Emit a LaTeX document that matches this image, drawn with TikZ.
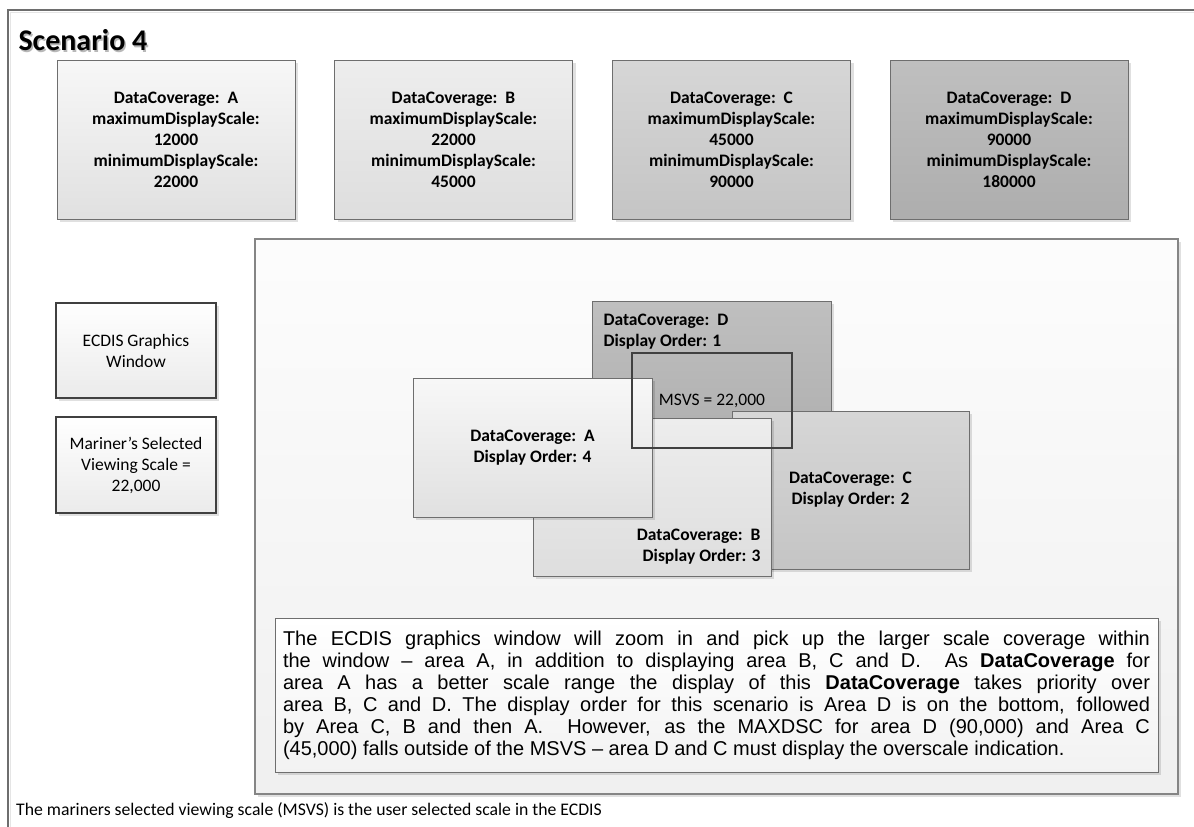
\documentclass[tikz,border=0pt]{standalone}
\usepackage{fontspec}
\setmainfont{Carlito}
\newfontfamily\arialfont{Liberation Sans}
\usetikzlibrary{shadows}

\definecolor{edgegray}{HTML}{6E6E6E}
\definecolor{darkedge}{HTML}{404040}
\definecolor{winedge}{HTML}{858585}

\tikzset{
  panel/.style={rectangle, draw=edgegray, line width=1pt, inner sep=0pt,
    drop shadow={shadow xshift=3pt, shadow yshift=-3pt, fill=black, opacity=0.12}},
  boldtext/.style={font=\bfseries\fontsize{17.5}{21}\selectfont, align=center},
  plaintext/.style={font=\fontsize{17.5}{21}\selectfont, align=center},
  topbox/.style={panel, boldtext, minimum width=238pt, minimum height=159pt},
  areabox/.style={panel, boldtext, minimum width=239pt, minimum height=159pt},
  thickbox/.style={rectangle, draw=darkedge, line width=2.6pt, inner sep=0pt,
    plaintext, minimum width=160pt, minimum height=95pt,
    top color=white, bottom color=black!8,
    drop shadow={shadow xshift=3pt, shadow yshift=-3pt, fill=black, opacity=0.12}},
  shadeA/.style={top color=black!3, bottom color=black!12},
  shadeB/.style={top color=black!7, bottom color=black!13},
  shadeC/.style={top color=black!16, bottom color=black!23},
  shadeD/.style={top color=black!25, bottom color=black!32},
}

\begin{document}
\begin{tikzpicture}[x=1pt,y=-1pt]
\useasboundingbox (0,0) rectangle (1194,827);
\fill[white] (0,0) rectangle (1194,827);

% outer frame (open on the right and at the bottom)
\draw[black!10, line width=1.6pt] (1194,12.5) -- (10.5,12.5) -- (10.5,827);
\draw[edgegray, line width=1.2pt] (1194,10) -- (8,10) -- (8,827);

% title with its soft shadow
\node[anchor=west, text=black!28, font=\bfseries\fontsize{30}{36}\selectfont] at (16.5,42) {Scenario 4};
\node (title) [anchor=west, font=\bfseries\fontsize{30}{36}\selectfont] at (15,40.5) {Scenario 4};

% coverage summaries
\node (covA) [topbox, shadeA] at (176,139.5)
  {DataCoverage:~~A\\maximumDisplayScale:\\12000\\minimumDisplayScale:\\22000};
\node (covB) [topbox, shadeB] at (453.5,139.5)
  {DataCoverage:~~B\\maximumDisplayScale:\\22000\\minimumDisplayScale:\\45000};
\node (covC) [topbox, shadeC] at (731.5,139.5)
  {DataCoverage:~~C\\maximumDisplayScale:\\45000\\minimumDisplayScale:\\90000};
\node (covD) [topbox, shadeD] at (1009,139.5)
  {DataCoverage:~~D\\maximumDisplayScale:\\90000\\minimumDisplayScale:\\180000};

% legend boxes
\node (ecdis) [thickbox] at (136,350.5) {ECDIS Graphics\\Window};
\node (mariner) [thickbox, minimum height=96pt] at (136,465)
  {Mariner’s Selected\\Viewing Scale =\\22,000};

% graphics window
\node (window) [panel, draw=winedge, line width=1.6pt, minimum width=923pt,
  minimum height=555pt, top color=black!1, bottom color=black!6] at (716.5,516.5) {};

% coverage areas, bottom to top
\node (areaD) [areabox, shadeD] at (711.5,380.5) {};
\node (areaDtext) [boldtext, align=left, anchor=west] at (600,331.5)
  {DataCoverage:~~D\\Display Order: 1};
\node (areaC) [areabox, shadeC, minimum width=237pt, minimum height=158pt] at (850.5,490)
  {DataCoverage:~~C\\Display Order: 2};
\node (areaB) [areabox, shadeB, minimum width=238pt, minimum height=158pt] at (652,497) {};
\node (areaBtext) [boldtext, align=right, anchor=east] at (764,546.5)
  {DataCoverage:~~B\\Display Order: 3};
\node (areaA) [areabox, shadeA, minimum height=139pt] at (532.5,447.5)
  {DataCoverage:~~A\\Display Order: 4};

% selected viewing extent
\node (msvs) [rectangle, draw=darkedge, line width=2.6pt, minimum width=160pt,
  minimum height=95pt, plaintext] at (712,400.5) {MSVS = 22,000};

% explanation
\node (note) [panel, minimum width=883pt, minimum height=154pt, inner sep=8pt,
  top color=white, bottom color=black!5, text width=867pt, align=justify,
  font=\arialfont\fontsize{20}{22}\selectfont] at (716.5,695)
  {\parfillskip=0pt\tolerance=10000\hyphenpenalty=10000
   The ECDIS graphics window will zoom in and pick up the larger scale coverage within\linebreak
   the window – area A, in addition to displaying area B, C and D.\ \ As \textbf{DataCoverage} for\linebreak
   area A has a better scale range the display of this \textbf{DataCoverage} takes priority over\linebreak
   area B, C and D. The display order for this scenario is Area D is on the bottom, followed\linebreak
   by Area C, B and then A.\ \ However, as the MAXDSC for area D (90,000) and Area C\linebreak
   (45,000) falls outside of the MSVS – area D and C must display the overscale indication.};

\node (footnote) [anchor=west, inner xsep=0pt, font=\fontsize{17.7}{21}\selectfont] at (16,811)
  {The mariners selected viewing scale (MSVS) is the user selected scale in the ECDIS};
\end{tikzpicture}
\end{document}
